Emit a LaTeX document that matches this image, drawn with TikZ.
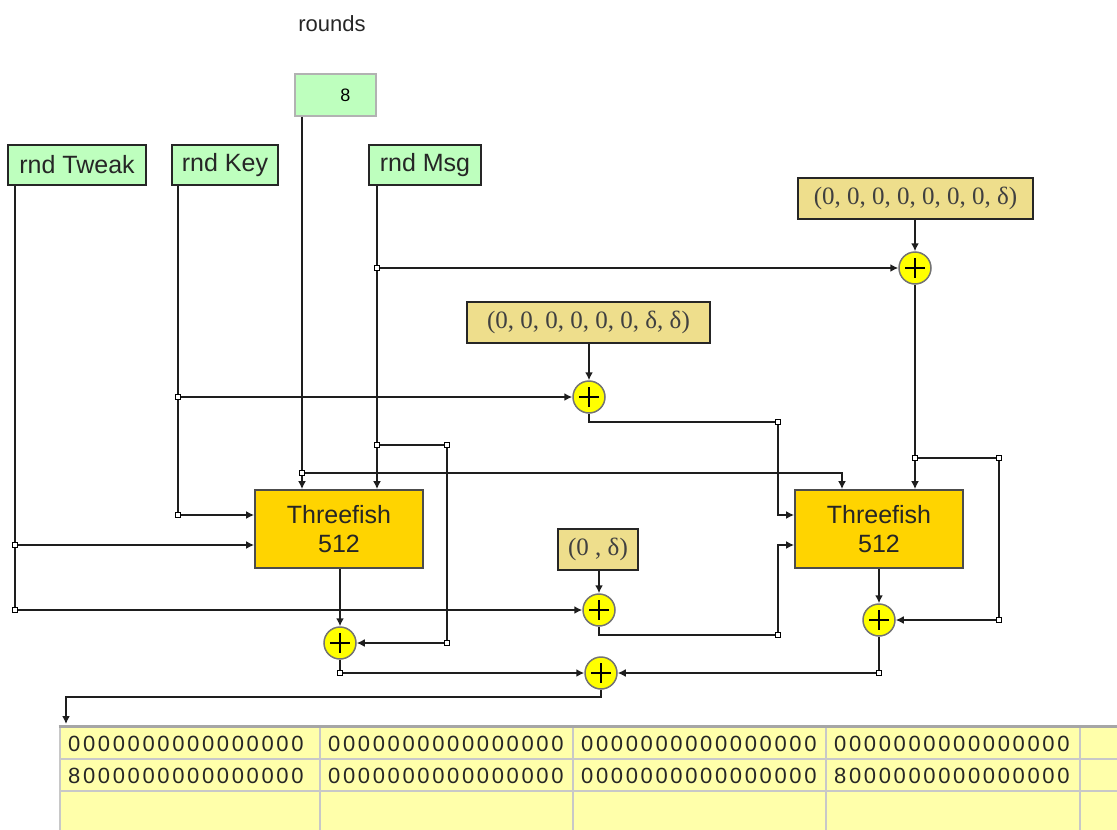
\documentclass[tikz,border=0pt]{standalone}
\usepackage{fontspec}
\setmainfont{Liberation Sans}
\newfontfamily\deltafont{Liberation Serif}
\newfontfamily\cellfont[LetterSpace=12]{Liberation Sans}
\usetikzlibrary{arrows.meta}
\definecolor{ingreen}{RGB}{190,255,190}
\definecolor{dkhaki}{RGB}{238,222,140}
\definecolor{tfgold}{RGB}{255,212,0}
\definecolor{xoryel}{RGB}{255,255,0}
\definecolor{tabyel}{RGB}{255,255,170}
\definecolor{wire}{RGB}{30,30,30}
\definecolor{gridc}{RGB}{200,200,200}

\begin{document}
\begin{tikzpicture}[x=1pt,y=-1pt,>={Latex[length=8pt,width=8pt]},
  wires/.style={draw=wire,line width=1.9pt},
  inbox/.style={draw=black!85,fill=ingreen,line width=1.8pt,minimum height=40pt,
    inner sep=0pt,text=black!85,font=\fontsize{25}{29}\selectfont},
  rbox/.style={draw=black!30,fill=ingreen,line width=1.8pt,minimum width=81pt,minimum height=42pt,
    inner sep=0pt,text width=30pt,align=right,font=\fontsize{18}{20}\selectfont},
  dbox/.style={draw=black!85,fill=dkhaki,line width=1.8pt,minimum height=41pt,inner sep=0pt,
    text=black!75,font=\deltafont\fontsize{25}{27}\selectfont},
  tfbox/.style={draw=black!70,fill=tfgold,line width=1.8pt,minimum width=168pt,minimum height=78pt,
    inner sep=0pt,align=center,text=black!85,font=\fontsize{25}{29}\selectfont},
  xorc/.style={circle,minimum size=32pt,inner sep=0pt,fill=xoryel,draw=black!55,line width=1.5pt,
    path picture={\draw[black,line width=1.7pt]
      ([yshift=-6pt]path picture bounding box.north) -- ([yshift=6pt]path picture bounding box.south)
      ([xshift=6pt]path picture bounding box.west) -- ([xshift=-6pt]path picture bounding box.east);}},
  jn/.style={draw=black,fill=white,line width=1pt,minimum size=5.5pt,inner sep=0pt},
  cell/.style={anchor=west,inner sep=0pt,text=black!85,font=\cellfont\fontsize{22}{22}\selectfont}]
  \clip (0,0) rectangle (1117,830);

  % output table
  \fill[tabyel] (60,726) rectangle (1130,840);
  \foreach \x in {60,320,573,826,1080}
    \draw[gridc,line width=2.5pt] (\x,726) -- (\x,840);
  \foreach \y in {759,791}
    \draw[gridc,line width=2.5pt] (60,\y) -- (1130,\y);
  \draw[black!35,line width=3pt] (58.5,726) -- (1130,726);
  \foreach \x/\a/\b [count=\i] in {60/0000000000000000/8000000000000000,
      320/0000000000000000/0000000000000000,
      573/0000000000000000/0000000000000000,
      826/0000000000000000/8000000000000000} {
    \node[cell] (ca\i) at (\x+8,744) {\a};
    \node[cell] (cb\i) at (\x+8,776) {\b};
  }

  % inputs
  \node[font=\fontsize{22}{24}\selectfont,text=black!85] (rlabel) at (332,24) {rounds};
  \node[rbox] (r8) at (335.5,95) {8};
  \node[inbox,minimum width=138pt] (tweak) at (77,165) {rnd Tweak};
  \node[inbox,minimum width=106pt] (key) at (225,165) {rnd Key};
  \node[inbox,minimum width=112pt] (msg) at (425,165) {rnd Msg};

  % differences
  \node[dbox,minimum width=235pt] (d3) at (915.5,198.5) {(0, 0, 0, 0, 0, 0, 0, δ)};
  \node[dbox,minimum width=243pt] (d2) at (588.5,322.5) {(0, 0, 0, 0, 0, 0, δ, δ)};
  \node[dbox,minimum width=80pt] (d1) at (598,549.5) {(0 , δ)};

  \node[tfbox] (tf1) at (339,529) {Threefish\\512};
  \node[tfbox] (tf2) at (879,529) {Threefish\\512};

  \node[xorc] (xt) at (915,268) {};
  \node[xorc] (xm) at (589,397) {};
  \node[xorc] (xd) at (599,610) {};
  \node[xorc] (xf1) at (340,643) {};
  \node[xorc] (xf2) at (879,620) {};
  \node[xorc] (xo) at (601,673) {};

  \coordinate (tw1) at (15,545);
  \coordinate (tw2) at (15,610);
  \coordinate (ky1) at (178,397);
  \coordinate (ky2) at (178,515);
  \coordinate (ms1) at (377,268);
  \coordinate (ms2) at (377,445);
  \coordinate (ms3) at (447,445);
  \coordinate (ms4) at (447,643);
  \coordinate (rd1) at (302,473);
  \coordinate (rd2) at (842,473);
  \coordinate (xm1) at (778,422);
  \coordinate (xd1) at (778,635);
  \coordinate (xt1) at (915,458);
  \coordinate (xt2) at (999,458);
  \coordinate (xt3) at (999,620);
  \coordinate (f1) at (340,673);
  \coordinate (f2) at (879,673);
  \coordinate (out1) at (66,697);
  \coordinate (tabtop) at (66,724);

  % wiring
  \draw[wires,->] (tweak.south -| tw1) |- (xd);
  \draw[wires,->] (tw1) -- (tw1 -| tf1.west);
  \draw[wires,->] (key.south -| ky1) |- (tf1.west |- ky2);
  \draw[wires,->] (ky1) -- (xm);
  \draw[wires,->] (r8.south -| rd1) -- (tf1.north -| rd1);
  \draw[wires,->] (rd1) -| (tf2.north -| rd2);
  \draw[wires,->] (msg.south -| ms1) -- (tf1.north -| ms1);
  \draw[wires,->] (ms1) -- (xt);
  \draw[wires,->] (ms2) -- (ms3) -- (ms4) -- (xf1);
  \draw[wires,->] (d3.south -| xt) -- (xt);
  \draw[wires,->] (d2.south -| xm) -- (xm);
  \draw[wires,->] (d1.south -| xd) -- (xd);
  \draw[wires,->] (xt) -- (tf2.north -| xt);
  \draw[wires,->] (xt1) -- (xt2) -- (xt3) -- (xf2);
  \draw[wires,->] (xm.south) |- (xm1) -- (xm1 |- ky2) -- (tf2.west |- ky2);
  \draw[wires,->] (xd.south) |- (xd1) -- (xd1 |- tw1) -- (tf2.west |- tw1);
  \draw[wires,->] (tf1.south -| xf1) -- (xf1);
  \draw[wires,->] (tf2.south -| xf2) -- (xf2);
  \draw[wires,->] (xf1) -- (f1) -- (xo);
  \draw[wires,->] (xf2) -- (f2) -- (xo);
  \draw[wires,->] (xo) |- (out1) -- (tabtop);

  \foreach \p in {tw1,tw2,ky1,ky2,ms1,ms2,ms3,ms4,rd1,xm1,xd1,xt1,xt2,xt3,f1,f2}
    \node[jn] (j-\p) at (\p) {};
\end{tikzpicture}
\end{document}
